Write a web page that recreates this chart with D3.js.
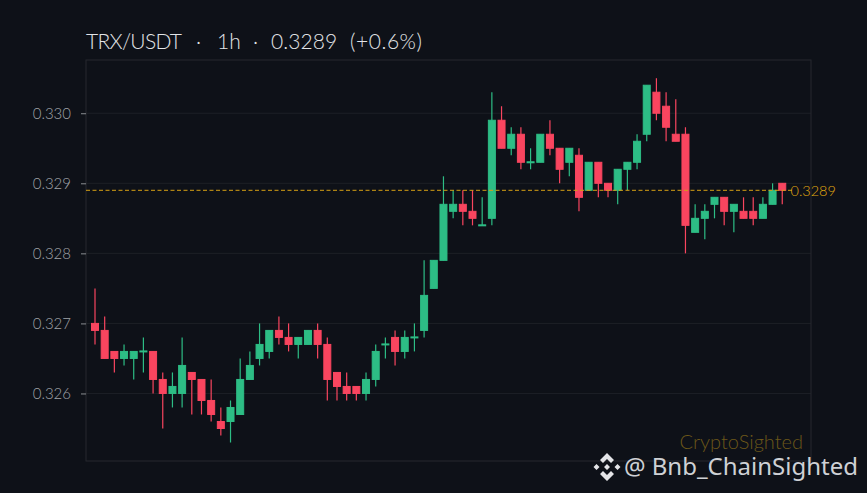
<!DOCTYPE html>
<html><head><meta charset="utf-8">
<script src="https://cdn.jsdelivr.net/npm/d3@7"></script>
<style>html,body{margin:0;padding:0;background:#0e1118;overflow:hidden}svg{display:block}</style>
</head><body><svg id="c" width="867" height="493"></svg>
<script>
const titleParts = ["TRX/USDT","·","1h","·","0.3289","(+0.6%)"];
const yTicks = [0.326,0.327,0.328,0.329,0.330];
const lastPrice = 0.3289;
const opens = [0.3270,0.3269,0.3266,0.3265,0.3265,0.3266,0.3266,0.3262,0.3260,0.3260,0.3263,0.3262,0.3259,0.3256,0.3256,0.3257,0.3262,0.3265,0.3266,0.3269,0.3268,0.3267,0.3267,0.3269,0.3267,0.3263,0.3261,0.3261,0.3260,0.3262,0.3267,0.3268,0.3266,0.3268,0.3269,0.3275,0.3279,0.3286,0.3287,0.3286,0.3284,0.3285,0.3299,0.3295,0.3297,0.3293,0.3293,0.3297,0.3295,0.3293,0.3294,0.3289,0.3293,0.3290,0.3289,0.3292,0.3293,0.3297,0.3303,0.3301,0.3297,0.3297,0.3283,0.3285,0.3287,0.3288,0.3286,0.3286,0.3286,0.3285,0.3287,0.3290];
const closes = [0.3269,0.3265,0.3265,0.3266,0.3266,0.3266,0.3262,0.3260,0.3261,0.3264,0.3262,0.3259,0.3257,0.3255,0.3258,0.3262,0.3264,0.3267,0.3269,0.3268,0.3267,0.3268,0.3269,0.3267,0.3262,0.3261,0.3260,0.3260,0.3262,0.3266,0.3267,0.3266,0.3268,0.3268,0.3274,0.3279,0.3287,0.3287,0.3286,0.3285,0.3284,0.3299,0.3295,0.3297,0.3293,0.3293,0.3297,0.3295,0.3292,0.3295,0.3288,0.3293,0.3290,0.3289,0.3292,0.3293,0.3296,0.3304,0.3300,0.3298,0.3296,0.3284,0.3285,0.3286,0.3288,0.3286,0.3287,0.3285,0.3285,0.3287,0.3289,0.3289];
const highs = [0.3275,0.3271,0.3266,0.3267,0.3266,0.3268,0.3266,0.3263,0.3263,0.3268,0.3263,0.3262,0.3262,0.3258,0.3259,0.3265,0.3266,0.3270,0.3269,0.3271,0.3270,0.3268,0.3269,0.3270,0.3268,0.3263,0.3263,0.3261,0.3263,0.3267,0.3268,0.3269,0.3269,0.3270,0.3279,0.3279,0.3291,0.3289,0.3289,0.3289,0.3288,0.3303,0.3301,0.3298,0.3298,0.3295,0.3297,0.3299,0.3295,0.3295,0.3295,0.3293,0.3293,0.3290,0.3292,0.3293,0.3297,0.3304,0.3305,0.3303,0.3302,0.3298,0.3287,0.3287,0.3288,0.3288,0.3287,0.3288,0.3288,0.3288,0.3290,0.3290];
const lows = [0.3267,0.3265,0.3263,0.3264,0.3262,0.3263,0.3260,0.3255,0.3258,0.3258,0.3257,0.3257,0.3256,0.3254,0.3253,0.3257,0.3262,0.3264,0.3265,0.3267,0.3266,0.3265,0.3267,0.3265,0.3259,0.3259,0.3259,0.3259,0.3259,0.3261,0.3265,0.3264,0.3265,0.3266,0.3268,0.3275,0.3279,0.3285,0.3284,0.3284,0.3284,0.3284,0.3295,0.3294,0.3292,0.3292,0.3293,0.3294,0.3290,0.3291,0.3286,0.3289,0.3288,0.3288,0.3287,0.3289,0.3292,0.3296,0.3299,0.3296,0.3296,0.3280,0.3283,0.3282,0.3285,0.3284,0.3283,0.3285,0.3284,0.3285,0.3287,0.3287];

const UP="#2dbd85", DOWN="#f9455f", LINE="#d6a015";
const L=86,R=811,T=60,B=461;
const svg=d3.select("#c");
const x=d3.scaleLinear().domain([-0.93,73.97]).range([L,R]);
const y=d3.scaleLinear().domain([0.325036,0.33076]).range([B,T]);
const sans="Lato, 'Open Sans', sans-serif";

svg.append("rect").attr("width",867).attr("height",493).attr("fill","#0e1118");
svg.append("g").selectAll("line").data(yTicks).join("line")
  .attr("x1",L).attr("x2",R).attr("y1",d=>y(d)).attr("y2",d=>y(d))
  .attr("stroke","#1d2026").attr("stroke-width",1);
svg.append("rect").attr("x",L).attr("y",T).attr("width",R-L).attr("height",B-T)
  .attr("fill","none").attr("stroke","#26292e").attr("stroke-width",1);
const ax=svg.append("g").attr("transform",`translate(${L},0)`)
  .call(d3.axisLeft(y).tickValues(yTicks).tickFormat(d3.format(".3f")).tickSize(5).tickPadding(10));
ax.select(".domain").remove();
ax.selectAll(".tick line").attr("stroke","#8a8d92");
ax.selectAll("text").attr("fill","#a0a3a8").attr("font-family",sans).attr("font-size",15).attr("font-weight",300);

const idx=d3.range(opens.length);
const col=i=>closes[i]>=opens[i]?UP:DOWN;
svg.append("g").selectAll("line").data(idx).join("line")
  .attr("x1",x).attr("x2",x).attr("y1",i=>y(highs[i])).attr("y2",i=>y(lows[i]))
  .attr("stroke",col).attr("stroke-width",1.2);
svg.append("g").selectAll("rect").data(idx).join("rect")
  .attr("x",i=>x(i)-3.5).attr("width",7)
  .attr("y",i=>opens[i]===closes[i]?y(opens[i])-0.5:y(Math.max(opens[i],closes[i])))
  .attr("height",i=>Math.max(1,Math.abs(y(opens[i])-y(closes[i]))))
  .attr("fill",col).attr("stroke",col).attr("stroke-width",1);
svg.append("line").attr("x1",L).attr("x2",793).attr("y1",y(lastPrice)).attr("y2",y(lastPrice))
  .attr("stroke",LINE).attr("stroke-width",1).attr("stroke-dasharray","4 2.5");
svg.append("text").attr("x",790.5).attr("y",y(lastPrice)+5.5).attr("fill","#e0a810")
  .attr("font-family",sans).attr("font-size",14.5).attr("font-weight",300).text("0.3289");
const titleX=[86,196,217,253,271,350];
const titleSpacing=[-0.7,0,0,0,0.1,0.55];
const title=svg.append("text").attr("y",49).attr("fill","#e2e4e7")
  .attr("font-family",sans).attr("font-size",21).attr("font-weight",300);
title.selectAll("tspan").data(titleParts).join("tspan").attr("x",(d,i)=>titleX[i])
  .attr("letter-spacing",(d,i)=>titleSpacing[i]).text(d=>d);
svg.append("text").attr("x",803).attr("y",449).attr("text-anchor","end").attr("fill","#6c5719")
  .attr("font-family",sans).attr("font-size",20).attr("font-weight",300).text("CryptoSighted");
svg.append("text").attr("x",858).attr("y",475).attr("text-anchor","end").attr("fill","#cfd1d5")
  .attr("font-family","'Noto Sans', sans-serif").attr("font-size",24).text("@ Bnb_ChainSighted");
const logo=svg.append("g").attr("transform","translate(607,467)").attr("fill","#e4e5e8");
logo.append("path").attr("d","M0,-14 L7,-7 L4,-4 L0,-8 L-4,-4 L-7,-7 Z M0,14 L7,7 L4,4 L0,8 L-4,4 L-7,7 Z M-13.5,0 L-10.5,-3 L-7.5,0 L-10.5,3 Z M13.5,0 L10.5,-3 L7.5,0 L10.5,3 Z M0,-3 L3,0 L0,3 L-3,0 Z");
</script></body></html>
